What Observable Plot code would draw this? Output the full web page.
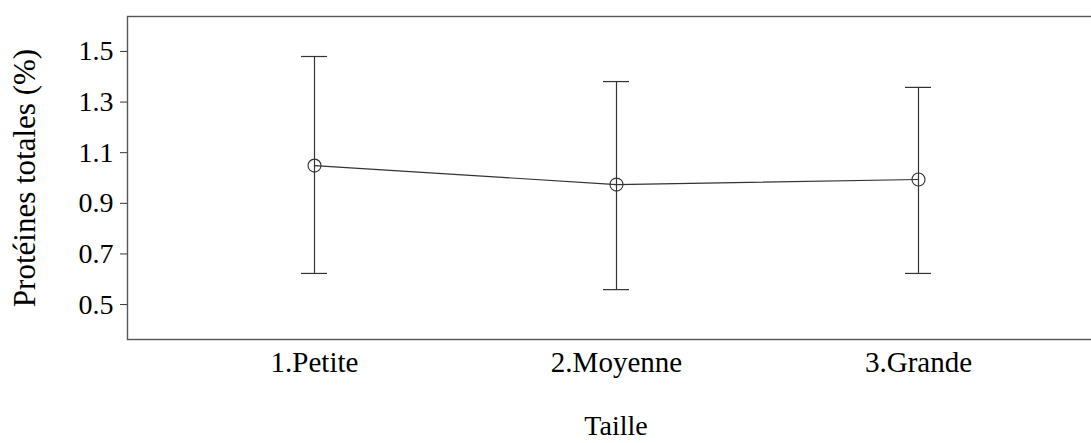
<!DOCTYPE html>
<html>
<head>
<meta charset="utf-8">
<script src="https://cdn.jsdelivr.net/npm/d3@7"></script>
<script src="https://cdn.jsdelivr.net/npm/@observablehq/plot@0.6"></script>
<style>
  html, body { margin: 0; padding: 0; background: #fff; overflow: hidden; }
  #chart { width: 1091px; height: 443px; overflow: hidden; }
  #chart svg { max-width: none !important; }
</style>
</head>
<body>
<div id="chart"></div>
<script>
const categories = ["1.Petite", "2.Moyenne", "3.Grande"];
const means = [1.049, 0.974, 0.994];
const lower = [0.623, 0.559, 0.623];
const upper = [1.480, 1.381, 1.358];
const yTicks = [0.5, 0.7, 0.9, 1.1, 1.3, 1.5];

const data = categories.map((c, i) => ({cat: c, mean: means[i], lo: lower[i], hi: upper[i]}));

const font = "'Liberation Serif', 'Times New Roman', serif";
const ink = "#333";

const chart = Plot.plot({
  width: 1104,
  height: 443,
  marginLeft: 127,
  marginRight: 0,
  marginTop: 16,
  marginBottom: 104,
  style: {fontFamily: font, fontSize: "29px", color: "#000", background: "#fff"},
  x: {type: "point", domain: categories, padding: 0.616},
  y: {domain: [0.362, 1.638]},
  marks: [
    Plot.frame({stroke: "#555", strokeWidth: 1.4}),
    Plot.axisY({ticks: yTicks, tickFormat: d => d.toFixed(1), tickSize: 7, tickPadding: 7,
      fontSize: 28, fontFamily: font, stroke: ink, label: null}),
    Plot.axisY({ticks: [], label: "Protéines totales (%)", labelAnchor: "center", labelArrow: false,
      labelOffset: 115, fontSize: 31, fontFamily: font}),
    Plot.axisX({tickSize: 0, tickPadding: 12, fontSize: 29, fontFamily: font, label: null}),
    Plot.axisX({ticks: [], label: "Taille", labelAnchor: "center", labelArrow: false, labelOffset: 95,
      fontSize: 28, fontFamily: font}),
    Plot.ruleX(data, {x: "cat", y1: "lo", y2: "hi", stroke: ink, strokeWidth: 1.2}),
    Plot.ruleY(data, {x1: "cat", x2: "cat", y: "hi", stroke: ink, strokeWidth: 1.2, insetLeft: -13, insetRight: -13}),
    Plot.ruleY(data, {x1: "cat", x2: "cat", y: "lo", stroke: ink, strokeWidth: 1.2, insetLeft: -13, insetRight: -13}),
    Plot.line(data, {x: "cat", y: "mean", stroke: ink, strokeWidth: 1.2}),
    Plot.dot(data, {x: "cat", y: "mean", r: 6.5, stroke: ink, fill: "none", strokeWidth: 1.1})
  ]
});
chart.style.maxWidth = "none";
document.getElementById("chart").appendChild(chart);
</script>
</body>
</html>
